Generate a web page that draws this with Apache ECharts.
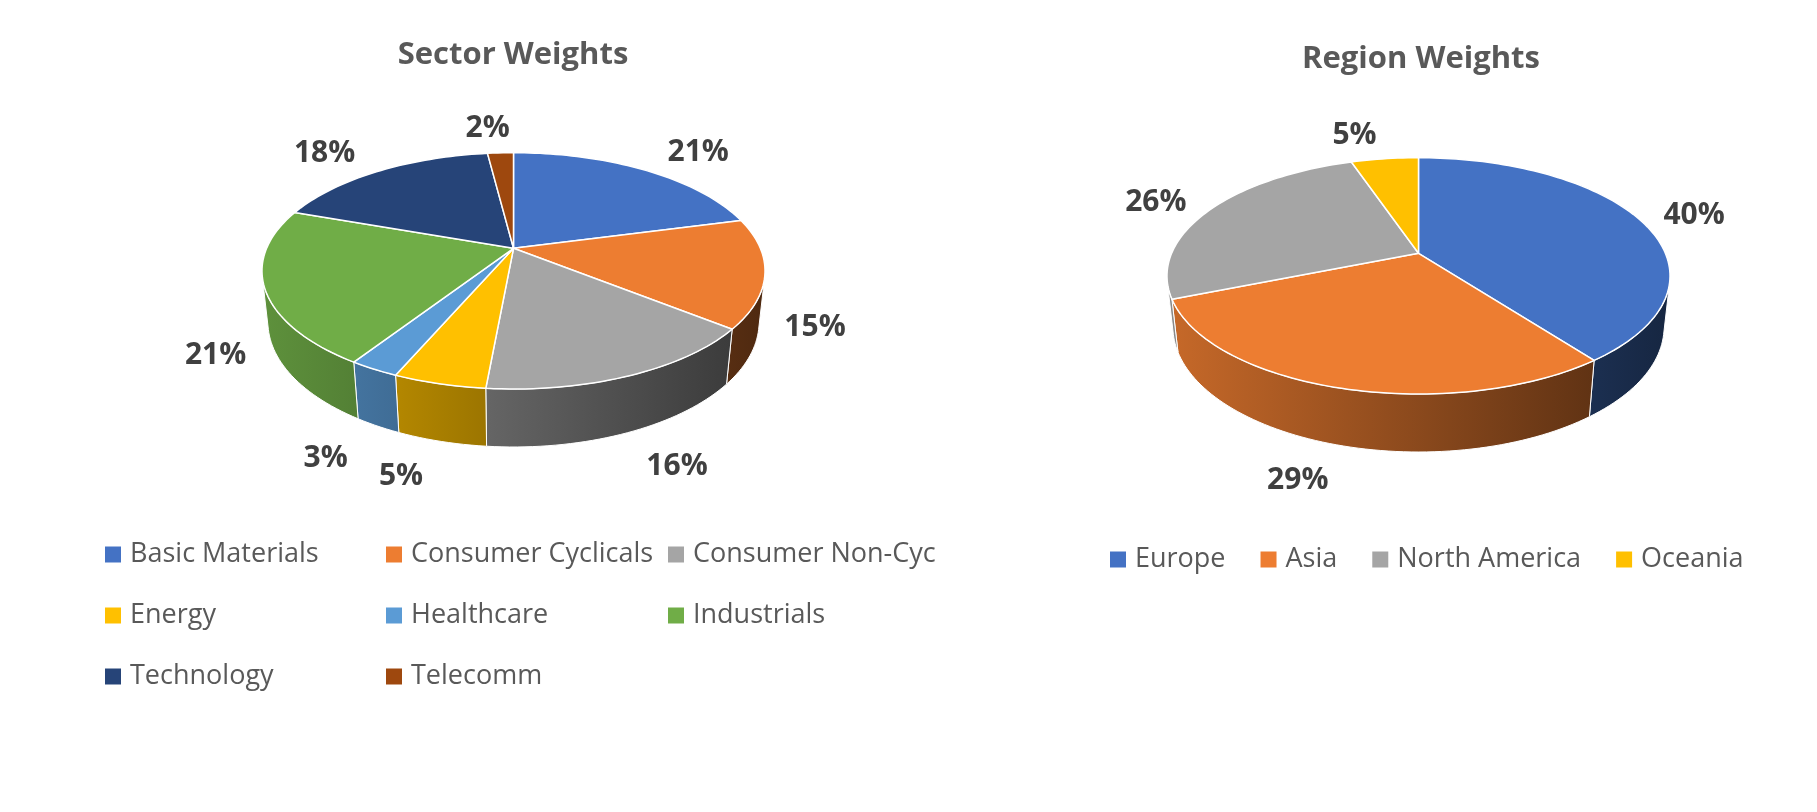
<!DOCTYPE html>
<html>
<head>
<meta charset="utf-8">
<title>Sector Weights / Region Weights</title>
<script src="https://cdn.jsdelivr.net/npm/echarts@6/dist/echarts.min.js"></script>
<style>
    html, body { margin: 0; padding: 0; background: #fff; }
    #chart { width: 1817px; height: 812px; }
</style>
</head>
<body>
<div id="chart"></div>
<script>
// ============================================
// 数据
// ============================================

const sectorNames = ['Basic Materials', 'Consumer Cyclicals', 'Consumer Non-Cyc', 'Energy',
                     'Healthcare', 'Industrials', 'Technology', 'Telecomm'];
const sectorValues = [20.9, 14.9, 15.7, 5.0, 2.7, 21.3, 17.6, 2.0];
const sectorColors = ['#4472C4', '#ED7D31', '#A5A5A5', '#FFC000', '#5B9BD5', '#70AD47', '#264478', '#9E480E'];

const regionNames = ['Europe', 'Asia', 'North America', 'Oceania'];
const regionValues = [39.7, 29.2, 25.9, 5.2];
const regionColors = ['#4472C4', '#ED7D31', '#A5A5A5', '#FFC000'];

// ============================================
// 3D饼图投影（透视）
// ============================================

const VIEW = {
    dist: 4.647,     // 相机距离 / 半径
    cosE: 0.8873,    // 俯角
    sinE: 0.4611,
    k: 1147.3,       // 屏幕缩放
    h: 0.2353        // 厚度 / 半径
};

// 侧面可见的角度范围
const WALL_LIMIT = Math.asin(1 / (VIEW.dist * VIEW.cosE));
const WALL_FROM = Math.PI / 2 + WALL_LIMIT;
const WALL_TO = Math.PI * 1.5 - WALL_LIMIT;

function project(cx, cy, r, theta, z) {
    const X = r * Math.sin(theta);
    const Y = -r * Math.cos(theta);
    const depth = VIEW.dist - Y * VIEW.cosE - z * VIEW.sinE;
    return [cx + VIEW.k * X / depth, cy + VIEW.k * (Y * VIEW.sinE - z * VIEW.cosE) / depth];
}

function arc(cx, cy, a0, a1, z) {
    const steps = Math.max(2, Math.ceil(Math.abs(a1 - a0) / (Math.PI / 120)));
    const pts = [];
    for (let j = 0; j <= steps; j++) {
        pts.push(project(cx, cy, 1, a0 + (a1 - a0) * j / steps, z));
    }
    return pts;
}

function shade(hex, f) {
    const n = parseInt(hex.slice(1), 16);
    const r = Math.round(((n >> 16) & 255) * f);
    const g = Math.round(((n >> 8) & 255) * f);
    const b = Math.round((n & 255) * f);
    return `rgb(${r},${g},${b})`;
}

/**
 * 生成单个扇区的 renderItem
 */
function sliceRenderer(pie, index) {
    const total = pie.values.reduce((s, v) => s + v, 0);
    const before = pie.values.slice(0, index).reduce((s, v) => s + v, 0);

    return function (params, api) {
        const value = api.value(0);
        const a0 = before / total * Math.PI * 2;
        const a1 = (before + value) / total * Math.PI * 2;
        const color = pie.colors[index];
        const cx = pie.cx, cy = pie.cy;
        const children = [];

        // 顶面
        const top = [[cx, cy]].concat(arc(cx, cy, a0, a1, 0));
        children.push({
            type: 'polygon',
            z2: 10,
            shape: { points: top },
            style: { fill: color, stroke: '#fff', lineWidth: 1.5, lineJoin: 'round' }
        });

        // 侧面
        const w0 = Math.max(a0, WALL_FROM);
        const w1 = Math.min(a1, WALL_TO);
        if (w1 > w0) {
            const upper = arc(cx, cy, w0, w1, 0);
            const lower = arc(cx, cy, w1, w0, -VIEW.h);
            const halfW = VIEW.k / VIEW.dist * 1.02;
            children.push({
                type: 'polygon',
                z2: 1,
                shape: { points: upper.concat(lower) },
                style: {
                    fill: new echarts.graphic.LinearGradient(cx - halfW, 0, cx + halfW, 0, [
                        { offset: 0, color: shade(color, 0.84) },
                        { offset: 1, color: shade(color, 0.33) }
                    ], true),
                    stroke: '#fff',
                    lineWidth: 1
                }
            });
        }

        // 数据标签（放在扇区外侧）
        const mid = (a0 + a1) / 2;
        const Y = -Math.cos(mid);
        const t = Math.min(1, Math.max(0, (Y + 0.2) / 0.5));
        const anchor = project(cx, cy, 1, mid, -VIEW.h * t);
        const dx = 55 * Math.tanh(3.8 * Math.sin(mid));
        const dy = 30 * Y + 6;
        children.push({
            type: 'text',
            z2: 20,
            style: {
                text: Math.round(value / total * 100) + '%',
                x: anchor[0] + dx,
                y: anchor[1] + dy,
                align: 'center',
                verticalAlign: 'middle',
                fill: '#404040',
                font: 'bold 30px "Open Sans", sans-serif'
            }
        });

        return { type: 'group', children: children };
    };
}

const sectorPie = { cx: 513.5, cy: 248.3, values: sectorValues, colors: sectorColors };
const regionPie = { cx: 1418.5, cy: 253.3, values: regionValues, colors: regionColors };

function buildSeries(pie, names) {
    return names.map((name, i) => ({
        type: 'custom',
        name: name,
        coordinateSystem: 'none',
        silent: true,
        itemStyle: { color: pie.colors[i] },
        data: [[pie.values[i]]],
        renderItem: sliceRenderer(pie, i)
    }));
}

// ============================================
// 图例
// ============================================

const legendBase = {
    orient: 'vertical',
    padding: 0,
    icon: 'rect',
    itemWidth: 16,
    itemHeight: 16,
    itemGap: 34,
    selectedMode: false,
    textStyle: {
        fontFamily: '"Open Sans", sans-serif',
        fontSize: 27,
        lineHeight: 27,
        color: '#595959',
        padding: [0, 0, 0, 4]
    }
};

const sectorCol1 = sectorNames.filter((n, i) => i % 3 === 0);
const sectorCol2 = sectorNames.filter((n, i) => i % 3 === 1);
const sectorCol3 = sectorNames.filter((n, i) => i % 3 === 2);

const titleStyle = {
    fontFamily: '"Open Sans", sans-serif',
    fontWeight: 'bold',
    fontSize: 31,
    color: '#595959'
};

const chart = echarts.init(document.getElementById('chart'));
chart.setOption({
    animation: false,
    backgroundColor: '#fff',
    title: [
        { text: 'Sector Weights', left: 513, top: 55, padding: 0, textAlign: 'center',
          textVerticalAlign: 'middle', textStyle: titleStyle },
        { text: 'Region Weights', left: 1421, top: 59, padding: 0, textAlign: 'center',
          textVerticalAlign: 'middle', textStyle: titleStyle }
    ],
    legend: [
        Object.assign({}, legendBase, { data: sectorCol1, left: 105, top: 541 }),
        Object.assign({}, legendBase, { data: sectorCol2, left: 386, top: 541 }),
        Object.assign({}, legendBase, { data: sectorCol3, left: 668, top: 541 }),
        Object.assign({}, legendBase, { data: regionNames, orient: 'horizontal', itemGap: 35, left: 1110, top: 546 })
    ],
    series: buildSeries(sectorPie, sectorNames).concat(buildSeries(regionPie, regionNames))
});

window.addEventListener('resize', () => chart.resize());
</script>
</body>
</html>
